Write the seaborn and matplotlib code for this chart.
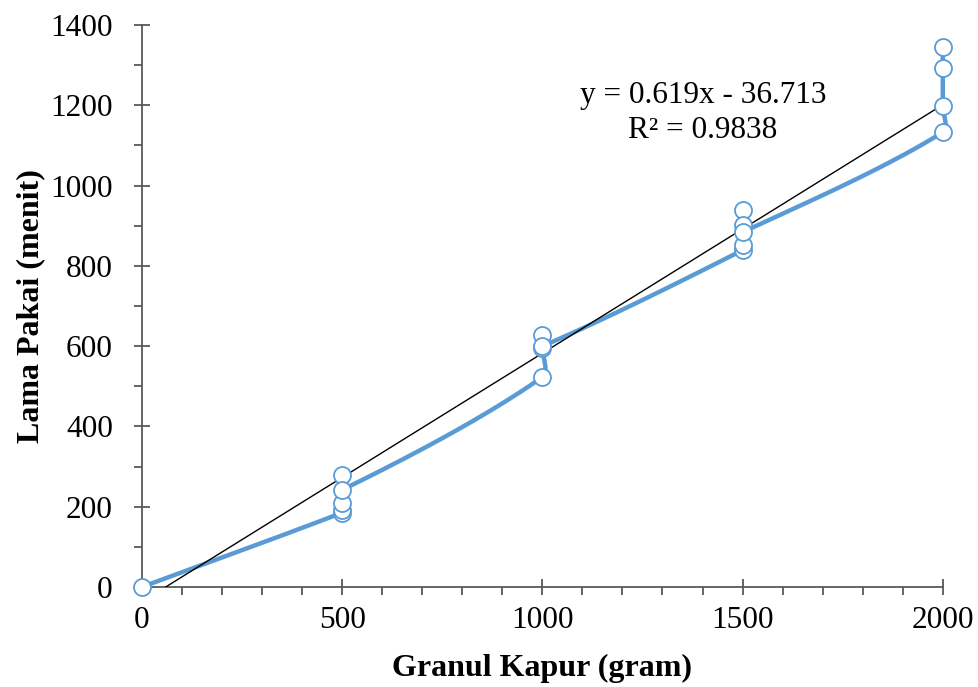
import numpy as np
import pandas as pd
import matplotlib
matplotlib.use("Agg")
import matplotlib.pyplot as plt
import seaborn as sb
from matplotlib.ticker import MultipleLocator

# data, in the order the smoothed line visits them
granul = [0, 500, 500, 500, 500, 500, 1000, 1000, 1000, 1000,
          1500, 1500, 1500, 1500, 1500, 2000, 2000, 2000, 2000]
lama = [0, 185, 192, 210, 280, 242, 523, 595, 628, 600,
        839, 852, 939, 902, 884, 1133, 1198, 1293, 1345]

# trendline from the equation shown on the chart
SLOPE = 0.619
INTERCEPT = -36.713
eq_text = "y = 0.619x - 36.713\nR² = 0.9838"

BLUE = "#5B9BD5"
GREY = "#595959"


def smooth(xs, ys, n=40, k=0.3):
    # smoothed line: bezier segments, tangent from neighbours,
    # scaled by the segment length so short hops don't overshoot
    p = np.column_stack([xs, ys]).astype(float)
    out = []
    for i in range(len(p) - 1):
        p0 = p[i - 1] if i > 0 else p[i]
        p1, p2 = p[i], p[i + 1]
        p3 = p[i + 2] if i + 2 < len(p) else p[i + 1]
        L = np.hypot(*(p2 - p1))
        d1 = p2 - p0
        d2 = p3 - p1
        d1 = d1 / (np.hypot(*d1) or 1)
        d2 = d2 / (np.hypot(*d2) or 1)
        c1 = p1 + d1 * L * k
        c2 = p2 - d2 * L * k
        t = np.linspace(0, 1, n)[:, None]
        seg = ((1 - t) ** 3) * p1 + 3 * ((1 - t) ** 2) * t * c1 + 3 * (1 - t) * t ** 2 * c2 + t ** 3 * p2
        out.append(seg)
    seg = np.vstack(out)
    return seg[:, 0], seg[:, 1]


sb.set_style("ticks")
plt.rcParams['font.family'] = ['Liberation Serif', 'DejaVu Serif']
plt.rcParams['text.color'] = 'black'
plt.rcParams['axes.labelcolor'] = 'black'

fig = plt.figure(figsize=(9.79, 6.87), dpi=100)
ax = fig.add_axes([0.145, 0.1456, 0.818, 0.818])

df = pd.DataFrame({"granul": granul, "lama": lama})

sx, sy = smooth(granul, lama)
ax.plot(sx, sy, color=BLUE, lw=3.2, solid_capstyle="round", zorder=2, clip_on=False)

xt = np.array([0, 2000])
ax.plot(xt, SLOPE * xt + INTERCEPT, color="black", lw=1, zorder=3)

sb.scatterplot(data=df, x="granul", y="lama", ax=ax, s=150, facecolor="white",
               edgecolor=BLUE, linewidth=1.3, zorder=4, clip_on=False)

ax.text(1401, 1180, eq_text, ha="center", va="center", fontsize=22.5,
        linespacing=1.28, color="black")

ax.set_xlim(0, 2000)
ax.set_ylim(0, 1400)
ax.xaxis.set_major_locator(MultipleLocator(500))
ax.xaxis.set_minor_locator(MultipleLocator(100))
ax.yaxis.set_major_locator(MultipleLocator(200))
ax.yaxis.set_minor_locator(MultipleLocator(100))

for s in ["top", "right"]:
    ax.spines[s].set_visible(False)
for s in ["left", "bottom"]:
    ax.spines[s].set_color(GREY)
    ax.spines[s].set_linewidth(1.3)
ax.tick_params(which="both", color=GREY, width=1.3, labelsize=22.5, labelcolor="black")
ax.tick_params(which="major", direction="inout", length=12)
ax.tick_params(which="minor", direction="out", length=6)
ax.tick_params(axis="x", which="major", pad=8)
ax.tick_params(axis="y", which="major", pad=15)

ax.set_xlabel("Granul Kapur (gram)", fontsize=23, fontweight="bold", labelpad=13, color="black")
ax.set_ylabel("Lama Pakai (menit)", fontsize=23, fontweight="bold", labelpad=4, color="black")

fig.savefig("out.png", dpi=100)
